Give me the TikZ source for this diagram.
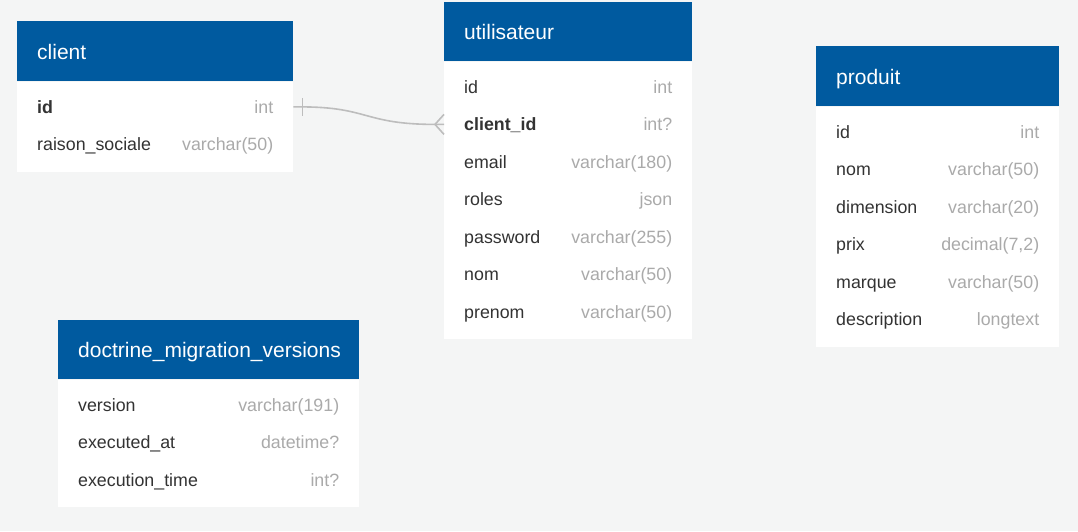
\documentclass[tikz,border=0pt]{standalone}
\usepackage{fontspec}
\setmainfont{Liberation Sans}
\definecolor{bgc}{HTML}{F4F5F5}
\definecolor{hdrc}{HTML}{005A9F}
\definecolor{namec}{HTML}{333333}
\definecolor{typec}{HTML}{AAAAAA}
\definecolor{connc}{HTML}{BDBDBD}
\tikzset{
  hdr/.style={rectangle, fill=hdrc, draw=none, inner sep=0pt},
  hdrtext/.style={inner sep=0pt, text=white, text height=16pt, text depth=0pt, font=\fontsize{21}{24}\selectfont},
  bodybox/.style={rectangle, fill=white, draw=none, inner sep=0pt},
  rowbox/.style={rectangle, draw=none, inner sep=0pt, minimum height=37.5pt},
  nametext/.style={inner sep=0pt, text=namec, text height=13pt, text depth=0pt, font=\fontsize{17.8}{20}\selectfont},
  typetext/.style={inner sep=0pt, text=typec, text height=13pt, text depth=0pt, font=\fontsize{17.8}{20}\selectfont},
  conn/.style={draw=connc, line width=1.6pt},
}
\newcommand\ertable[7]{% key, x, y, width, header height, body height, title
  \def\ertw{#4}%
  \node[hdr, minimum width=#4pt, minimum height=#5pt, anchor=north west] (#1) at (#2,#3) {};
  \node[hdrtext, anchor=west] (#1-title) at ([xshift=20pt]#1.west) {#7};
  \node[bodybox, minimum width=#4pt, minimum height=#6pt, anchor=north] (#1-body) at (#1.south) {};
}
\newcommand\errow[6]{% table, rowkey, index, name, type, name font
  \pgfmathsetmacro\ery{-25.5-37.5*(#3-1)}%
  \node[rowbox, minimum width=\ertw pt] (#1-#2) at ([yshift=\ery pt]#1.south) {};
  \node[nametext, anchor=west, font=\fontsize{17.8}{20}\selectfont#6] (#1-#2-name) at ([xshift=20pt]#1-#2.west) {#4};
  \node[typetext, anchor=east] (#1-#2-type) at ([xshift=-20pt]#1-#2.east) {#5};
}
\begin{document}
\begin{tikzpicture}[x=1pt,y=-1pt]
\fill[bgc] (0,0) rectangle (1078,531);
\useasboundingbox (0,0) rectangle (1078,531);

% client
\ertable{client}{17}{21}{276}{60}{90}{client}
\errow{client}{id}{1}{id}{int}{\bfseries}
\errow{client}{raison}{2}{raison\_sociale}{varchar(50)}{}

% utilisateur
\ertable{utilisateur}{444}{2}{248}{59}{277.5}{utilisateur}
\errow{utilisateur}{id}{1}{id}{int}{}
\errow{utilisateur}{clientid}{2}{client\_id}{int?}{\bfseries}
\errow{utilisateur}{email}{3}{email}{varchar(180)}{}
\errow{utilisateur}{roles}{4}{roles}{json}{}
\errow{utilisateur}{password}{5}{password}{varchar(255)}{}
\errow{utilisateur}{nom}{6}{nom}{varchar(50)}{}
\errow{utilisateur}{prenom}{7}{prenom}{varchar(50)}{}

% produit
\ertable{produit}{816}{46}{243}{60}{240}{produit}
\errow{produit}{id}{1}{id}{int}{}
\errow{produit}{nom}{2}{nom}{varchar(50)}{}
\errow{produit}{dimension}{3}{dimension}{varchar(20)}{}
\errow{produit}{prix}{4}{prix}{decimal(7,2)}{}
\errow{produit}{marque}{5}{marque}{varchar(50)}{}
\errow{produit}{description}{6}{description}{longtext}{}

% doctrine
\ertable{doctrine}{58}{320}{301}{59}{127.5}{doctrine\_migration\_versions}
\errow{doctrine}{version}{1}{version}{varchar(191)}{}
\errow{doctrine}{executed}{2}{executed\_at}{datetime?}{}
\errow{doctrine}{exectime}{3}{execution\_time}{int?}{}

% connector client.id -> utilisateur.client_id
\draw[conn] (client-id.east) -- ([xshift=8pt]client-id.east)
  .. controls ([xshift=75pt]client-id.east) and ([xshift=-80pt]utilisateur-clientid.west)
  .. ([xshift=-9pt]utilisateur-clientid.west) -- (utilisateur-clientid.west);
\draw[conn] ([xshift=9pt,yshift=9pt]client-id.east) -- ([xshift=9pt,yshift=-9pt]client-id.east);
\draw[conn] ([yshift=10pt]utilisateur-clientid.west) -- ([xshift=-9pt]utilisateur-clientid.west)
  -- ([yshift=-10pt]utilisateur-clientid.west);
\end{tikzpicture}
\end{document}
